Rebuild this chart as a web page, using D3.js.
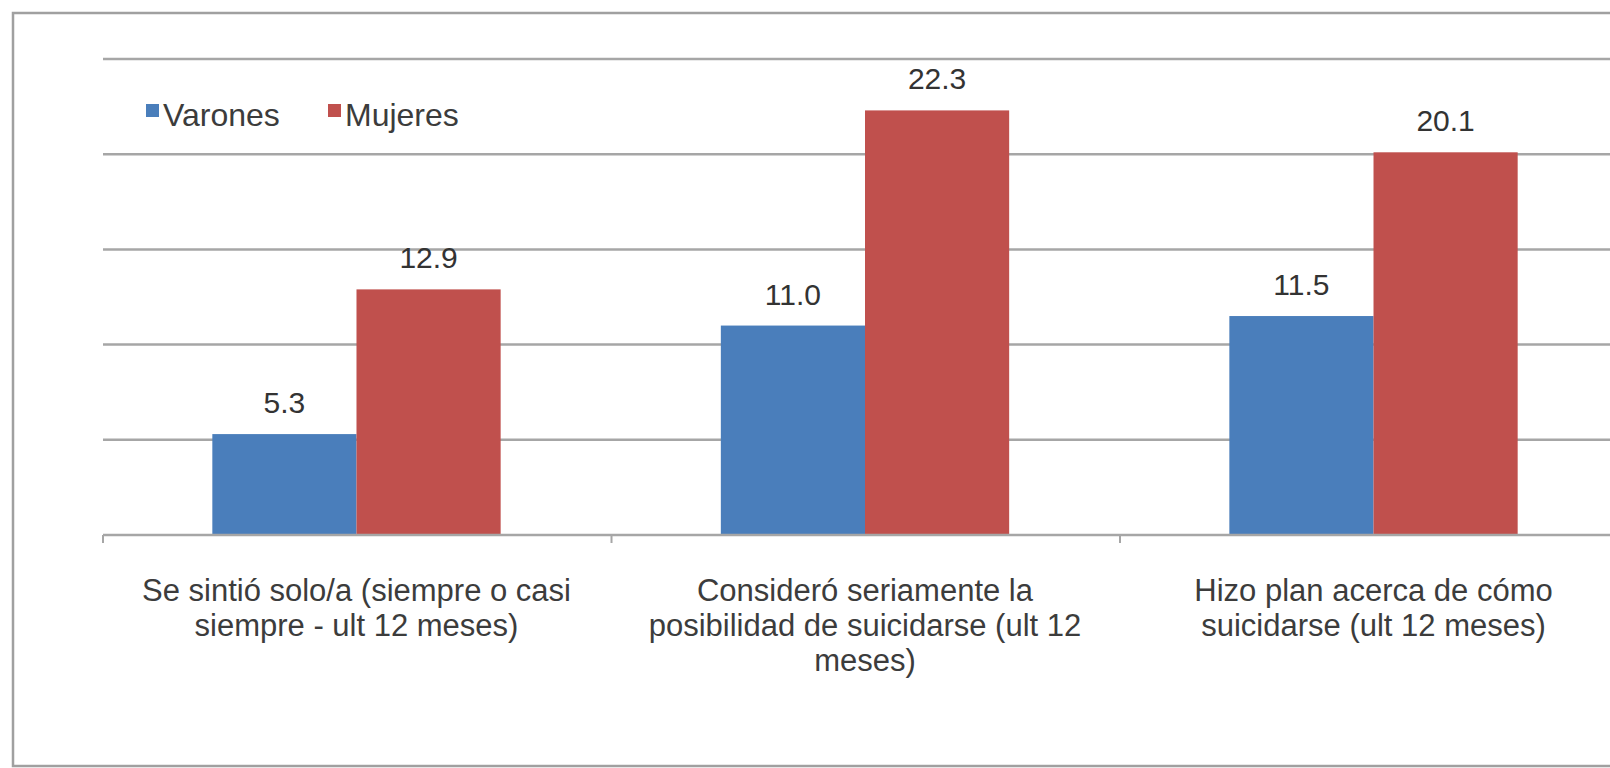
<!DOCTYPE html>
<html>
<head>
<meta charset="utf-8">
<script src="https://cdn.jsdelivr.net/npm/d3@7"></script>
<style>
  html, body { margin: 0; padding: 0; background: #fff; }
  svg { display: block; }
</style>
</head>
<body>
<svg id="chart" width="1610" height="768"></svg>
<script>
const categories = [
  ["Se sintió solo/a (siempre o casi", "siempre - ult 12 meses)"],
  ["Consideró seriamente la", "posibilidad de suicidarse (ult 12", "meses)"],
  ["Hizo plan acerca de cómo", "suicidarse (ult 12 meses)"]
];
const seriesNames = ["Varones", "Mujeres"];
const varones = [5.3, 11.0, 11.5];
const mujeres = [12.9, 22.3, 20.1];
const yTicks = [0, 5, 10, 15, 20, 25];
const colors = ["#4a7ebb", "#c0504d"];

const svg = d3.select("#chart");
const font = "'Liberation Sans', Arial, sans-serif";

// border
svg.append("rect").attr("x", 13).attr("y", 13).attr("width", 1640).attr("height", 753)
  .attr("fill", "none").attr("stroke", "#a0a0a0").attr("stroke-width", 2.5);

const plotLeft = 103, plotRight = 1627, gridRight = 1640;
const x0 = d3.scaleBand().domain(d3.range(categories.length)).range([plotLeft, plotRight])
  .paddingInner(0.433).paddingOuter(0.215);
const x1 = d3.scaleBand().domain(d3.range(seriesNames.length)).range([0, x0.bandwidth()]);
const y = d3.scaleLinear().domain([0, 25]).range([535, 59]);

// gridlines
svg.append("g").selectAll("line").data(yTicks.filter(t => t > 0)).join("line")
  .attr("x1", plotLeft).attr("x2", gridRight)
  .attr("y1", d => y(d)).attr("y2", d => y(d))
  .attr("stroke", "#a6a6a6").attr("stroke-width", 2.5);

// bars
const data = categories.map((c, i) => [varones[i], mujeres[i]]);
const groups = svg.append("g").selectAll("g").data(data).join("g")
  .attr("transform", (d, i) => `translate(${x0(i)},0)`);
groups.selectAll("rect").data(d => d).join("rect")
  .attr("x", (d, j) => x1(j)).attr("width", x1.bandwidth())
  .attr("y", d => y(d)).attr("height", d => y(0) - y(d))
  .attr("fill", (d, j) => colors[j]);
groups.selectAll("text").data(d => d).join("text")
  .attr("x", (d, j) => x1(j) + x1.bandwidth() / 2)
  .attr("y", d => y(d) - 21)
  .attr("text-anchor", "middle")
  .attr("font-family", font).attr("font-size", 30)
  .attr("fill", "#333")
  .text(d => d.toFixed(1));

// baseline axis
svg.append("line").attr("x1", plotLeft).attr("x2", gridRight)
  .attr("y1", y(0)).attr("y2", y(0)).attr("stroke", "#a6a6a6").attr("stroke-width", 2.5);
const step = x0.step();
svg.append("g").selectAll("line").data(d3.range(categories.length)).join("line")
  .attr("x1", i => plotLeft + i * step).attr("x2", i => plotLeft + i * step)
  .attr("y1", y(0)).attr("y2", y(0) + 8)
  .attr("stroke", "#a6a6a6").attr("stroke-width", 2);

// category labels
const lab = svg.append("g").selectAll("text").data(categories).join("text")
  .attr("text-anchor", "middle")
  .attr("font-family", font).attr("font-size", 31)
  .attr("fill", "#3c3c3c");
lab.each(function(lines, i) {
  d3.select(this).selectAll("tspan").data(lines).join("tspan")
    .attr("x", x0(i) + x0.bandwidth() / 2)
    .attr("y", (d, k) => 601 + k * 35)
    .text(d => d);
});

// legend
const legX = [146, 328];
seriesNames.forEach((s, i) => {
  svg.append("rect").attr("x", legX[i]).attr("y", 104).attr("width", 13).attr("height", 13).attr("fill", colors[i]);
  svg.append("text").attr("x", legX[i] + 17).attr("y", 126)
    .attr("font-family", font).attr("font-size", 32).attr("fill", "#3c3c3c").text(s);
});
</script>
</body>
</html>
